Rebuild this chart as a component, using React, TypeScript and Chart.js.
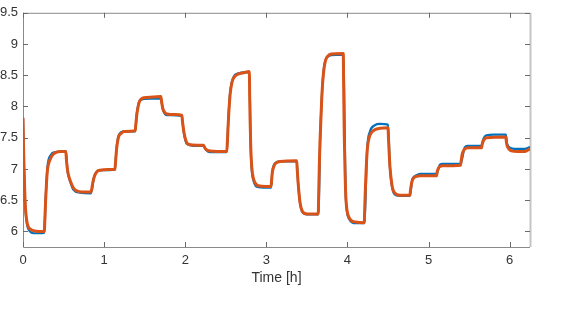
import React, { useEffect, useRef } from "react";
import { Chart, registerables } from "chart.js";

Chart.register(...registerables);

// Model (orange) series: time [h] and value
const modelT = [
  0.0, 0.006, 0.013, 0.025, 0.035, 0.045, 0.06, 0.086, 0.13, 0.2, 0.262,
  0.27, 0.279, 0.29, 0.303, 0.32, 0.34, 0.37, 0.4, 0.47, 0.528,
  0.535, 0.549, 0.565, 0.586, 0.62, 0.66, 0.73, 0.837,
  0.845, 0.86, 0.878, 0.907, 0.95, 1.05, 1.133,
  1.14, 1.153, 1.165, 1.18, 1.21, 1.248, 1.383,
  1.39, 1.404, 1.42, 1.436, 1.46, 1.49, 1.6, 1.7,
  1.71, 1.725, 1.745, 1.775, 1.87, 1.958,
  1.966, 1.98, 2.0, 2.02, 2.045, 2.15, 2.224,
  2.24, 2.26, 2.29, 2.4, 2.512,
  2.52, 2.532, 2.553, 2.575, 2.594, 2.625, 2.655, 2.72, 2.79,
  2.795, 2.8, 2.808, 2.82, 2.84, 2.87, 2.9, 3.0, 3.058,
  3.065, 3.074, 3.09, 3.107, 3.14, 3.17, 3.374,
  3.38, 3.394, 3.415, 3.435, 3.456, 3.5, 3.64,
  3.645, 3.652, 3.66, 3.668, 3.68, 3.695, 3.71, 3.73, 3.76, 3.8, 3.948,
  3.953, 3.96, 3.97, 3.98, 3.995, 4.02, 4.05, 4.1, 4.207,
  4.212, 4.224, 4.244, 4.26, 4.277, 4.3, 4.339, 4.4, 4.5,
  4.505, 4.523, 4.54, 4.556, 4.575, 4.597, 4.65, 4.77,
  4.775, 4.787, 4.8, 4.82, 4.85, 4.9, 5.098,
  5.105, 5.12, 5.14, 5.17, 5.394,
  5.4, 5.415, 5.43, 5.447, 5.48, 5.653,
  5.66, 5.672, 5.69, 5.714, 5.952,
  5.958, 5.968, 5.99, 6.02, 6.1, 6.186, 6.22, 6.25,
];
const modelY = [
  7.82, 7.4, 7.0, 6.5, 6.3, 6.18, 6.09, 6.04, 6.01, 6.0, 6.0,
  6.2, 6.5, 6.78, 7.0, 7.1, 7.17, 7.23, 7.26, 7.28, 7.28,
  7.15, 6.98, 6.88, 6.8, 6.7, 6.65, 6.63, 6.63,
  6.66, 6.78, 6.87, 6.95, 6.98, 6.99, 6.99,
  7.1, 7.31, 7.43, 7.52, 7.57, 7.6, 7.61,
  7.7, 7.88, 8.0, 8.08, 8.12, 8.14, 8.15, 8.16,
  8.06, 7.96, 7.91, 7.88, 7.87, 7.86,
  7.76, 7.62, 7.49, 7.42, 7.39, 7.38, 7.38,
  7.34, 7.31, 7.29, 7.28, 7.28,
  7.45, 7.78, 8.19, 8.38, 8.45, 8.5, 8.52, 8.54, 8.56,
  8.12, 7.76, 7.34, 7.03, 6.85, 6.76, 6.73, 6.72, 6.72,
  6.82, 6.95, 7.03, 7.08, 7.11, 7.12, 7.13,
  7.0, 6.74, 6.46, 6.35, 6.3, 6.28, 6.28,
  6.6, 7.0, 7.4, 7.65, 8.05, 8.4, 8.6, 8.74, 8.81, 8.84, 8.85,
  8.3, 7.57, 6.95, 6.54, 6.33, 6.22, 6.17, 6.15, 6.14,
  6.35, 6.8, 7.31, 7.46, 7.54, 7.59, 7.63, 7.65, 7.66,
  7.5, 7.05, 6.82, 6.69, 6.63, 6.6, 6.58, 6.58,
  6.64, 6.75, 6.82, 6.86, 6.88, 6.89, 6.89,
  6.95, 7.01, 7.04, 7.05, 7.06,
  7.12, 7.24, 7.29, 7.32, 7.34, 7.34,
  7.39, 7.44, 7.48, 7.5, 7.51,
  7.44, 7.37, 7.32, 7.29, 7.28, 7.28, 7.3, 7.32,
];

// Measured (blue) series
const measT = [
  0.0, 0.013, 0.025, 0.045, 0.086, 0.13, 0.2, 0.262,
  0.279, 0.303, 0.34, 0.4, 0.528,
  0.549, 0.586, 0.62, 0.7, 0.837,
  0.878, 0.95, 1.133,
  1.153, 1.18, 1.248, 1.383,
  1.404, 1.436, 1.49, 1.7,
  1.725, 1.775, 1.958,
  1.98, 2.02, 2.1, 2.224,
  2.26, 2.3, 2.512,
  2.532, 2.553, 2.594, 2.655, 2.79,
  2.808, 2.84, 2.9, 3.058,
  3.074, 3.107, 3.17, 3.374,
  3.394, 3.435, 3.5, 3.64,
  3.668, 3.71, 3.76, 3.8, 3.948,
  3.98, 4.02, 4.1, 4.207,
  4.244, 4.277, 4.339, 4.4, 4.5,
  4.523, 4.556, 4.597, 4.65, 4.77,
  4.8, 4.85, 4.9, 5.098,
  5.14, 5.17, 5.394,
  5.447, 5.48, 5.653,
  5.672, 5.714, 5.8, 5.952,
  5.968, 6.02, 6.1, 6.186, 6.25,
];
const measY = [
  7.82, 7.0, 6.48, 6.15, 6.0, 5.97, 5.97, 5.98,
  6.52, 7.05, 7.22, 7.27, 7.28,
  6.97, 6.78, 6.67, 6.62, 6.61,
  6.88, 6.98, 6.99,
  7.33, 7.54, 7.6, 7.6,
  7.9, 8.09, 8.12, 8.13,
  7.95, 7.86, 7.85,
  7.6, 7.4, 7.37, 7.37,
  7.3, 7.27, 7.27,
  7.82, 8.22, 8.47, 8.53, 8.55,
  7.3, 6.82, 6.71, 6.7,
  6.96, 7.09, 7.12, 7.12,
  6.72, 6.33, 6.27, 6.27,
  7.68, 8.62, 8.8, 8.82, 8.83,
  6.52, 6.2, 6.13, 6.13,
  7.35, 7.6, 7.7, 7.72, 7.71,
  7.03, 6.67, 6.58, 6.57, 6.57,
  6.84, 6.9, 6.92, 6.92,
  7.07, 7.08, 7.08,
  7.35, 7.37, 7.37,
  7.47, 7.54, 7.55, 7.55,
  7.4, 7.33, 7.32, 7.32, 7.35,
];

const X_MIN = 0;
const X_MAX = 6.25;
const Y_MIN = 5.75;
const Y_MAX = 9.5;

const frameTicks = {
  id: "frameTicks",
  beforeDatasetsDraw(chart: any) {
    const { ctx, chartArea } = chart;
    const { left, right, top, bottom } = chartArea;
    const xs = chart.scales.x;
    const ys = chart.scales.y;
    ctx.save();
    // right box edge (light)
    ctx.strokeStyle = "#c4c4c4";
    ctx.lineWidth = 2;
    ctx.beginPath();
    ctx.moveTo(right + 0.5, top);
    ctx.lineTo(right + 0.5, bottom);
    ctx.stroke();
    // left, bottom, top
    ctx.strokeStyle = "#8a8a8a";
    ctx.lineWidth = 1;
    ctx.beginPath();
    ctx.moveTo(left + 0.5, top);
    ctx.lineTo(left + 0.5, bottom + 0.5);
    ctx.lineTo(right, bottom + 0.5);
    ctx.moveTo(left, top + 0.5);
    ctx.lineTo(right, top + 0.5);
    ctx.stroke();
    // inward ticks
    ctx.strokeStyle = "#6a6a6a";
    ctx.beginPath();
    const tl = 5;
    xs.ticks.forEach((t: any) => {
      const px = Math.round(xs.getPixelForValue(t.value)) + 0.5;
      ctx.moveTo(px, bottom);
      ctx.lineTo(px, bottom - tl);
      ctx.moveTo(px, top);
      ctx.lineTo(px, top + tl);
    });
    ys.ticks.forEach((t: any) => {
      const py = Math.round(ys.getPixelForValue(t.value)) + 0.5;
      ctx.moveTo(left, py);
      ctx.lineTo(left + tl, py);
      ctx.moveTo(right, py);
      ctx.lineTo(right - tl, py);
    });
    ctx.stroke();
    ctx.restore();
  },
};

export default function App() {
  const ref = useRef<HTMLCanvasElement>(null);
  useEffect(() => {
    if (!ref.current) return;
    const model = modelT.map((t, i) => ({ x: t, y: modelY[i] }));
    const meas = measT.map((t, i) => ({ x: t, y: measY[i] }));
    const font = { family: "'Liberation Sans', Arial, sans-serif", size: 13 };
    const chart = new Chart(ref.current, {
      type: "line",
      data: {
        datasets: [
          {
            label: "Model",
            data: model,
            borderColor: "#D95319",
            borderWidth: 3,
            pointRadius: 0,
            cubicInterpolationMode: "monotone",
            order: 1,
          },
          {
            label: "Measured",
            data: meas,
            borderColor: "#0072BD",
            borderWidth: 2.2,
            pointRadius: 0,
            cubicInterpolationMode: "monotone",
            order: 2,
          },
        ],
      },
      options: {
        animation: false,
        responsive: false,
        devicePixelRatio: 1,
        layout: { padding: { left: 0, right: 34, top: 5, bottom: 0 } },
        plugins: { legend: { display: false }, tooltip: { enabled: false } },
        scales: {
          x: {
            type: "linear",
            min: X_MIN,
            max: X_MAX,
            grid: { display: false, drawTicks: false },
            border: { display: false },
            ticks: {
              stepSize: 1,
              includeBounds: false,
              maxRotation: 0,
              padding: 6,
              color: "#333333",
              font,
              callback: (v: any) => String(v),
            },
            title: {
              display: true,
              text: "Time [h]",
              color: "#333333",
              font: { family: "'Liberation Sans', Arial, sans-serif", size: 14 },
              padding: { top: 0, bottom: 31 },
            },
            afterFit: (s: any) => {
              s.height = 71;
            },
          },
          y: {
            type: "linear",
            min: Y_MIN,
            max: Y_MAX,
            grid: { display: false, drawTicks: false },
            border: { display: false },
            ticks: {
              stepSize: 0.5,
              includeBounds: false,
              padding: 5,
              color: "#333333",
              font,
              callback: (v: any) => String(v),
            },
            afterFit: (s: any) => {
              s.width = 23;
            },
          },
        },
      },
      plugins: [frameTicks],
    } as any);
    return () => chart.destroy();
  }, []);
  return (
    <div style={{ position: "absolute", left: 0, top: 0, width: 564, height: 318, background: "#fff" }}>
      <canvas ref={ref} width={564} height={318} style={{ display: "block" }} />
    </div>
  );
}
